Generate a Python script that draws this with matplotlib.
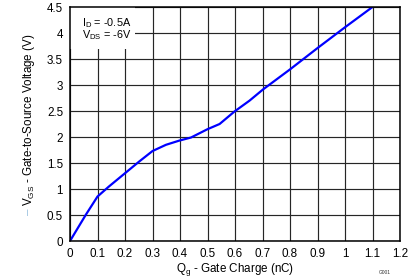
import matplotlib
matplotlib.use("Agg")
import matplotlib.pyplot as plt
from matplotlib.patches import Rectangle

qg = [0.0, 0.057, 0.1, 0.142, 0.197, 0.252, 0.30, 0.349, 0.397, 0.44, 0.50,
      0.544, 0.598, 0.653, 0.702, 0.80, 0.90, 1.00, 1.10]
vgs = [0.0, 0.50, 0.855, 1.05, 1.29, 1.53, 1.73, 1.85, 1.93, 1.99, 2.15,
       2.25, 2.49, 2.70, 2.915, 3.30, 3.71, 4.11, 4.50]
xticks = [0, 0.1, 0.2, 0.3, 0.4, 0.5, 0.6, 0.7, 0.8, 0.9, 1, 1.1, 1.2]
xticklabels = ["0", "0.1", "0.2", "0.3", "0.4", "0.5", "0.6", "0.7", "0.8", "0.9", "1", "1.1", "1.2"]
yticks = [0, 0.5, 1, 1.5, 2, 2.5, 3, 3.5, 4, 4.5]
yticklabels = ["0", "0.5", "1", "1.5", "2", "2.5", "3", "3.5", "4", "4.5"]

plt.rcParams['font.family'] = ['Liberation Sans', 'DejaVu Sans']
fs = 8.4

fig = plt.figure(figsize=(4.19, 2.79), dpi=100)
ax = fig.add_axes([70/419, 38/279, 330/419, 234/279])
ax.set_xlim(0, 1.2)
ax.set_ylim(0, 4.5)
ax.set_xticks(xticks)
ax.set_xticklabels(xticklabels)
ax.set_yticks(yticks)
ax.set_yticklabels(yticklabels)
ax.tick_params(length=0, labelsize=fs, colors='black')
ax.tick_params(axis='x', pad=5.0)
ax.tick_params(axis='y', pad=5.0)
ax.set_axisbelow(True)
ax.grid(True, color='#262626', linewidth=0.85)
for s in ax.spines.values():
    s.set_linewidth(1.1)
    s.set_color('black')

ax.add_patch(Rectangle((0, 0.822), 0.198, 0.178, transform=ax.transAxes,
                       facecolor='white', edgecolor='none', zorder=1))
ax.plot(qg, vgs, color='#0000FF', linewidth=1.6, zorder=2, solid_capstyle='butt')

afs = 7.8
ax.text(81.5/419, (279-22.7)/279, r"I$_\mathregular{D}$ = -0.5A", transform=fig.transFigure,
        fontsize=afs, ha='left', va='center', zorder=3)
ax.text(81.5/419, (279-35.5)/279, r"V$_\mathregular{DS}$ = -6V", transform=fig.transFigure,
        fontsize=afs, ha='left', va='center', zorder=3)

fig.text(235/419, (279-269)/279, r"Q$_\mathregular{g}$ - Gate Charge (nC)", fontsize=fs,
         ha='center', va='center')
fig.text(29/419, (279-206)/279, r"V$_\mathregular{GS}$ - Gate-to-Source Voltage (V)", fontsize=fs,
         ha='center', va='bottom', rotation=90)
fig.text(29/419, (279-212)/279, "\u2013", fontsize=fs, color='#9cc3e0',
         ha='center', va='center', rotation=90)
fig.text(385/419, (279-272)/279, "G001", fontsize=3.5, color='#333333',
         ha='center', va='center')

fig.savefig("out.png", dpi=100)
